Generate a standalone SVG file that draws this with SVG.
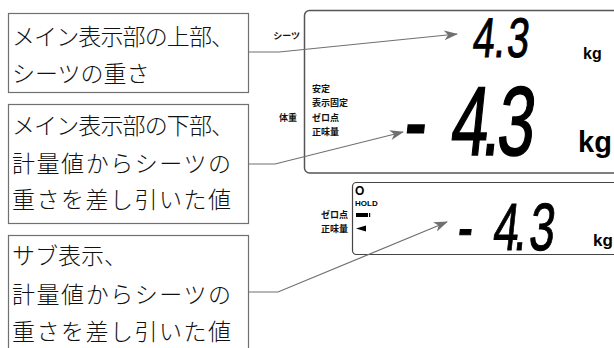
<svg xmlns="http://www.w3.org/2000/svg" width="614" height="348" viewBox="0 0 614 348">
<style>
.box{fill:#fff;stroke:#707070;stroke-width:1.2}
.lt{font-family:"Noto Sans CJK JP","Noto Sans CJK SC",sans-serif;font-size:23px;font-weight:300;fill:#111}
.sm{font-family:"Noto Sans CJK JP","Noto Sans CJK SC",sans-serif;font-size:9px;font-weight:bold;fill:#111}
.seg{font-family:"Liberation Sans",Arial,sans-serif;fill:#000;stroke:#000}
.kg{font-family:"Liberation Sans",Arial,sans-serif;font-weight:bold;fill:#000}
.con{fill:none;stroke:#707070;stroke-width:1.2}
</style>
<defs>
<marker id="ah" viewBox="0 0 14 10" refX="13" refY="5" markerWidth="14" markerHeight="10" markerUnits="userSpaceOnUse" orient="auto">
<path d="M0,0 L14,5 L0,10 L4,5 Z" fill="#707070"/>
</marker>
</defs>
<rect width="614" height="348" fill="#fff"/>

<g id="main-display">
<rect x="304.5" y="10.5" width="400" height="162.5" rx="5" fill="#fff" stroke="#555" stroke-width="1.5"/>
<text class="sm" x="312" y="92">安定</text>
<text class="sm" x="312" y="106">表示固定</text>
<text class="sm" x="312" y="121">ゼロ点</text>
<text class="sm" x="312" y="135">正味量</text>
<text class="seg" font-size="56" stroke-width="1" transform="translate(470,57) skewX(-6) scale(0.7,1)" x="2 33 51">4.3</text>
<text class="kg" font-size="16" x="583" y="59">kg</text>
<text class="seg" font-size="98" stroke-width="1.6" transform="translate(400,155) skewX(-6) scale(0.68,1)" x="3 72 118 140">-4.3</text>
<text class="kg" font-size="29" x="578" y="152">kg</text>
</g>

<g id="side-labels">
<text class="sm" x="300" y="39" text-anchor="end" font-weight="normal">シーツ</text>
<text class="sm" x="297" y="121" text-anchor="end">体重</text>
</g>

<g id="sub-display">
<rect x="352.5" y="182.5" width="400" height="72" rx="4" fill="#fff" stroke="#444" stroke-width="1.2"/>
<text class="kg" font-size="12" x="355" y="195">O</text>
<text class="kg" font-size="8" font-weight="normal" x="355" y="206" fill="#000">HOLD</text>
<rect x="356" y="213" width="12" height="4" fill="#000"/>
<rect x="369" y="213" width="1.2" height="4" fill="#000"/>
<path d="M356,228.5 L366,225.5 L366,231.5 Z" fill="#000"/>
<text class="sm" x="348" y="218" text-anchor="end" font-size="10">ゼロ点</text>
<text class="sm" x="348" y="232" text-anchor="end" font-size="10">正味量</text>
<text class="seg" font-size="67" stroke-width="1" transform="translate(455,250) skewX(-6) scale(0.68,1)" x="1.5 54 85 107">-4.3</text>
<text class="kg" font-size="17" x="593" y="246">kg</text>
</g>

<g id="note-top">
<rect class="box" x="8.5" y="13.5" width="240" height="79"/>
<text class="lt" x="12" y="45" textLength="222" lengthAdjust="spacing">メイン表示部の上部、</text>
<text class="lt" x="12" y="82">シーツの重さ</text>
</g>

<g id="note-main">
<rect class="box" x="8.5" y="104.5" width="240" height="119"/>
<text class="lt" x="12" y="134" textLength="222" lengthAdjust="spacing">メイン表示部の下部、</text>
<text class="lt" x="12" y="172" textLength="219" lengthAdjust="spacing">計量値からシーツの</text>
<text class="lt" x="12" y="208" textLength="219" lengthAdjust="spacing">重さを差し引いた値</text>
</g>

<g id="note-sub">
<rect class="box" x="8.5" y="235.5" width="240" height="130"/>
<text class="lt" x="12" y="264">サブ表示、</text>
<text class="lt" x="12" y="303" textLength="219" lengthAdjust="spacing">計量値からシーツの</text>
<text class="lt" x="12" y="340" textLength="219" lengthAdjust="spacing">重さを差し引いた値</text>
</g>

<g id="connectors">
<path class="con" d="M248,52 L279,52 L457,34" marker-end="url(#ah)"/>
<path class="con" d="M248,164 L275,164 L403,132" marker-end="url(#ah)"/>
<path class="con" d="M248,292 L278,292 L447,222" marker-end="url(#ah)"/>
</g>
</svg>
